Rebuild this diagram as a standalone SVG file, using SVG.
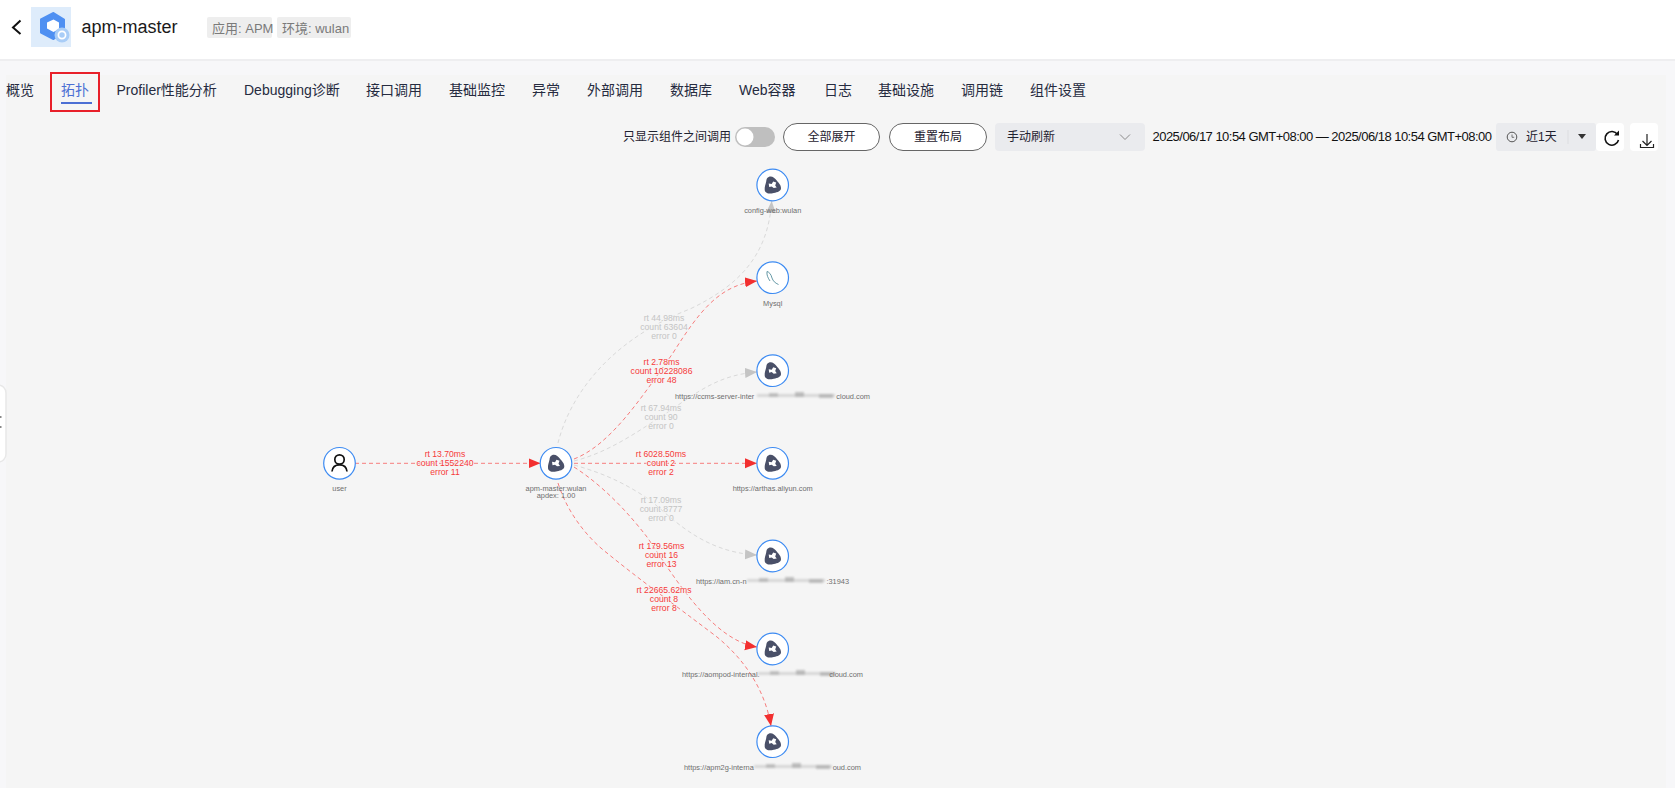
<svg xmlns="http://www.w3.org/2000/svg" width="1675" height="788" viewBox="0 0 1675 788">
<style>
text{font-family:"Liberation Sans","Noto Sans CJK SC",sans-serif}
.tab{font-size:14px;fill:#262b40}
.ctl{font-size:12px;fill:#1f2230}
.tag{font-size:13px;fill:#7a7a7a}
.ring{fill:#fff;stroke:#3d8bf2;stroke-width:1.2}
.name{font-size:7.4px;fill:#6e6e6e;text-anchor:middle}
.lab{font-size:8.65px;text-anchor:middle;paint-order:stroke;stroke:#f5f5f5;stroke-width:1.2px}
.r{fill:#f53a3a}
.g{fill:#c4c4c4}
.e{fill:none;stroke-width:1;stroke-dasharray:4 3}
.er{stroke:#f77d7d}
.eg{stroke:#d9d9d9}
.mask{fill:#a9a9a9}
</style>
<defs>
<marker id="ar" markerUnits="userSpaceOnUse" markerWidth="13" markerHeight="11" refX="12" refY="5" orient="auto"><path d="M0,0L12,5L0,10Z" fill="#f22f2f"/></marker>
<marker id="ag" markerUnits="userSpaceOnUse" markerWidth="13" markerHeight="11" refX="12" refY="5" orient="auto"><path d="M0,0L12,5L0,10Z" fill="#c4c4c4"/></marker>
<filter id="bl" x="-10%" y="-80%" width="120%" height="260%"><feGaussianBlur stdDeviation="1.300"/></filter>
<g id="svc"><circle class="ring" r="15.8"/><path d="M-4,-8C-1,-9.500 2,-7 4,-4.500C6,-2 8.500,0 8.300,3.500C8,7 3,7.500 0,8.300C-3,9 -7.500,8.500 -8,5C-8.300,2 -7,-1 -6.500,-3.500C-6.200,-5.500 -6,-7.500 -4,-8Z" fill="#4a5068"/><path d="M-4,-1.500L-1,-1L.5,-3.500L3.500,-2.500L2.500,.4L4,2.600L1,3L-1,1.400L-3.500,2Z" fill="#fff"/></g>
<g id="mosaic" filter="url(#bl)"><rect class="mask" x="0" y="-2" width="78" height="3" opacity=".4"/><rect class="mask" x="12" y="-3" width="9" height="4" opacity=".6"/><rect class="mask" x="38" y="-4" width="9" height="5" opacity=".7"/><rect class="mask" x="62" y="-2" width="14" height="4" opacity=".7"/></g>
</defs>
<rect width="1675" height="788" fill="#f7f7f9"/>
<rect x="6" y="75" width="1660" height="713" fill="#f5f5f5"/>
<g id="header">
<rect width="1675" height="59" fill="#fff"/>
<rect y="59" width="1675" height="2" fill="#eeeef0"/>
<path d="M20.500,20.500L13,27.500L20.500,34" fill="none" stroke="#111" stroke-width="2"/>
<rect x="31" y="7" width="40" height="40" fill="#deecfb"/>
<path d="M53.500,13L64,19.500V32L53.500,39L41,32.500V19.500Z" fill="#4f90f2" stroke="#4f90f2" stroke-width="2" stroke-linejoin="round"/>
<path d="M53.500,19.500L59,22.500V29L53.500,32L47,28.500V22.500Z" fill="#fff"/>
<circle cx="62" cy="35" r="7.500" fill="#a9cdf7"/><circle cx="62" cy="35" r="3.600" fill="none" stroke="#fff" stroke-width="1.700"/>
<text x="81.500" y="33" font-size="18" fill="#1a1a1a">apm-master</text>
<rect x="207" y="17" width="65" height="21" rx="2" fill="#eeeeee"/><text class="tag" x="212" y="33">应用: APM</text>
<rect x="277" y="17" width="74" height="21" rx="2" fill="#eeeeee"/><text class="tag" x="282" y="33">环境: wulan</text>
</g>
<g id="tabs">
<text class="tab" x="6" y="94.500">概览</text>
<text class="tab" x="61" y="94.500" style="fill:#4c6fd4">拓扑</text>
<rect x="61" y="102" width="31" height="2" fill="#4c6fd4"/>
<rect x="51" y="73" width="48" height="38" fill="none" stroke="#e8202a" stroke-width="2"/>
<text class="tab" x="116.500" y="94.500">Profiler性能分析</text>
<text class="tab" x="244" y="94.500">Debugging诊断</text>
<text class="tab" x="366" y="94.500">接口调用</text>
<text class="tab" x="449" y="94.500">基础监控</text>
<text class="tab" x="532" y="94.500">异常</text>
<text class="tab" x="587" y="94.500">外部调用</text>
<text class="tab" x="670" y="94.500">数据库</text>
<text class="tab" x="739" y="94.500">Web容器</text>
<text class="tab" x="824" y="94.500">日志</text>
<text class="tab" x="878" y="94.500">基础设施</text>
<text class="tab" x="961" y="94.500">调用链</text>
<text class="tab" x="1030" y="94.500">组件设置</text>
</g>
<g id="toolbar">
<text class="ctl" x="623" y="141">只显示组件之间调用</text>
<rect x="735" y="127" width="40" height="20" rx="10" fill="#bfbfbf"/><circle cx="745" cy="137" r="8.500" fill="#fff"/>
<rect x="783.500" y="123.500" width="96" height="27" rx="13.500" fill="#fff" stroke="#666"/><text class="ctl" x="831.500" y="141" text-anchor="middle">全部展开</text>
<rect x="889.500" y="123.500" width="97" height="27" rx="13.500" fill="#fff" stroke="#666"/><text class="ctl" x="938" y="141" text-anchor="middle">重置布局</text>
<rect x="995" y="123" width="150" height="28" rx="4" fill="#eaebee"/><text class="ctl" x="1007" y="141">手动刷新</text>
<path d="M1120,134.500L1125,139.500L1130,134.500" fill="none" stroke="#8a8a8a"/>
<text x="1152.500" y="141" font-size="13" fill="#111" textLength="339.500">2025/06/17 10:54 GMT+08:00 — 2025/06/18 10:54 GMT+08:00</text>
<rect x="1496" y="123" width="100" height="28" rx="3" fill="#eaebee"/>
<circle cx="1512" cy="137" r="4.800" fill="none" stroke="#555"/><path d="M1512,134.500V137.300H1514.200" fill="none" stroke="#555" stroke-width=".8"/>
<text class="ctl" x="1526" y="141">近1天</text>
<rect x="1567.500" y="130" width="1" height="14" fill="#dcdde0"/>
<path d="M1578,134H1586L1582,139Z" fill="#333"/>
<rect x="1596" y="123" width="28" height="28" rx="4" fill="#fff"/>
<path d="M1617.500,134.500A6.800,6.800 0 1 0 1618.500,140" fill="none" stroke="#111" stroke-width="1.600"/><path d="M1619,130.500V135.500H1614" fill="#111"/>
<rect x="1630" y="123" width="28" height="28" rx="4" fill="#fff"/>
<path d="M1647,134V145M1642.500,141L1647,145.500L1651.500,141M1640.500,144V147.500H1653.500V144" fill="none" stroke="#222" stroke-width="1.200"/>
</g>
<g id="side-handle">
<rect x="-12" y="385" width="18" height="77" rx="8" fill="#fff" stroke="#e8e8e8" stroke-width="1.500"/>
<rect x="0" y="416" width="1.500" height="2" fill="#888"/><rect x="0" y="426" width="1.500" height="2" fill="#888"/>
</g>
<g id="connectors">
<path class="e er" marker-end="url(#ar)" d="M355,463.300H540.500"/>
<path class="e eg" marker-end="url(#ag)" d="M558,443C570,395 610,340 690,309C740,285 768,255 771.700,201"/>
<path class="e er" marker-end="url(#ar)" d="M574,459C610,445 640,400 673,353C700,310 720,285 757,281"/>
<path class="e eg" marker-end="url(#ag)" d="M574,461C610,452 640,430 668,412C700,390 720,375 757,372"/>
<path class="e er" marker-end="url(#ar)" d="M574,463.300H757"/>
<path class="e eg" marker-end="url(#ag)" d="M574,465C610,475 630,487 647,498C670,515 700,552 757,555"/>
<path class="e er" marker-end="url(#ar)" d="M574,467C605,487 630,515 647,537C670,570 710,640 757,647"/>
<path class="e er" marker-end="url(#ar)" d="M558,483C568,515 590,540 607,553C640,580 675,605 717,637C745,660 765,690 771,726"/>
</g>
<g id="edge-labels">
<g class="r"><text class="lab" x="445" y="457">rt 13.70ms</text><text class="lab" x="445" y="466">count 1552240</text><text class="lab" x="445" y="475">error 11</text></g>
<g class="g"><text class="lab" x="664" y="321">rt 44.98ms</text><text class="lab" x="664" y="330">count 63604</text><text class="lab" x="664" y="339">error 0</text></g>
<g class="r"><text class="lab" x="661.500" y="365">rt 2.78ms</text><text class="lab" x="661.500" y="374">count 10228086</text><text class="lab" x="661.500" y="382.500">error 48</text></g>
<g class="g"><text class="lab" x="661" y="411">rt 67.94ms</text><text class="lab" x="661" y="420">count 90</text><text class="lab" x="661" y="429">error 0</text></g>
<g class="r"><text class="lab" x="661" y="457">rt 6028.50ms</text><text class="lab" x="661" y="466">count 2</text><text class="lab" x="661" y="475">error 2</text></g>
<g class="g"><text class="lab" x="661" y="503">rt 17.09ms</text><text class="lab" x="661" y="512">count 8777</text><text class="lab" x="661" y="521">error 0</text></g>
<g class="r"><text class="lab" x="661.500" y="549">rt 179.56ms</text><text class="lab" x="661.500" y="558">count 16</text><text class="lab" x="661.500" y="567">error 13</text></g>
<g class="r"><text class="lab" x="664" y="593">rt 22665.62ms</text><text class="lab" x="664" y="602">count 8</text><text class="lab" x="664" y="611">error 8</text></g>
</g>
<g id="user"><circle class="ring" cx="339.500" cy="463.300" r="15.800"/><circle cx="339.500" cy="459.500" r="4.700" fill="none" stroke="#111" stroke-width="1.700"/><path d="M332,471.500C332.500,466.500 335.500,464.800 339.500,464.800C343.500,464.800 346.500,466.500 347,471.500" fill="none" stroke="#111" stroke-width="1.700"/><text class="name" x="339.500" y="491">user</text></g>
<g id="apm-master"><use href="#svc" x="556" y="463.300"/><text class="name" x="556" y="491">apm-master:wulan</text><text class="name" x="556" y="498">apdex: 1.00</text></g>
<g id="config-web"><use href="#svc" x="772.700" y="185"/><text class="name" x="772.700" y="212.500">config-web:wulan</text></g>
<g id="mysql"><circle class="ring" cx="772.700" cy="277.700" r="15.800"/><path d="M767,271.500C769,272 771,274 772,278C773,281 775,283 778.500,284.500M767,271.500C766.500,275 768,278 770,281" fill="none" stroke="#3f7f8f" stroke-width=".8"/><text class="name" x="772.700" y="305.500">Mysql</text></g>
<g id="ccms"><use href="#svc" x="772.700" y="370.700"/><text class="name" x="675" y="398.500" style="text-anchor:start">https://ccms-server-inter</text><use href="#mosaic" x="757" y="396"/><text class="name" x="870" y="398.500" style="text-anchor:end">cloud.com</text></g>
<g id="arthas"><use href="#svc" x="772.700" y="463.300"/><text class="name" x="772.700" y="491">https://arthas.aliyun.com</text></g>
<g id="iam"><use href="#svc" x="772.700" y="556"/><text class="name" x="696" y="583.500" style="text-anchor:start">https://iam.cn-n</text><use href="#mosaic" x="747" y="581"/><text class="name" x="849" y="583.500" style="text-anchor:end">:31943</text></g>
<g id="aompod"><use href="#svc" x="772.700" y="649"/><text class="name" x="682" y="676.500" style="text-anchor:start">https://aompod-internal.</text><use href="#mosaic" x="758" y="674"/><text class="name" x="863" y="676.500" style="text-anchor:end">cloud.com</text></g>
<g id="apm2g"><use href="#svc" x="772.700" y="741.700"/><text class="name" x="684" y="769.500" style="text-anchor:start">https://apm2g-interna</text><use href="#mosaic" x="754" y="767"/><text class="name" x="861" y="769.500" style="text-anchor:end">oud.com</text></g>
</svg>
